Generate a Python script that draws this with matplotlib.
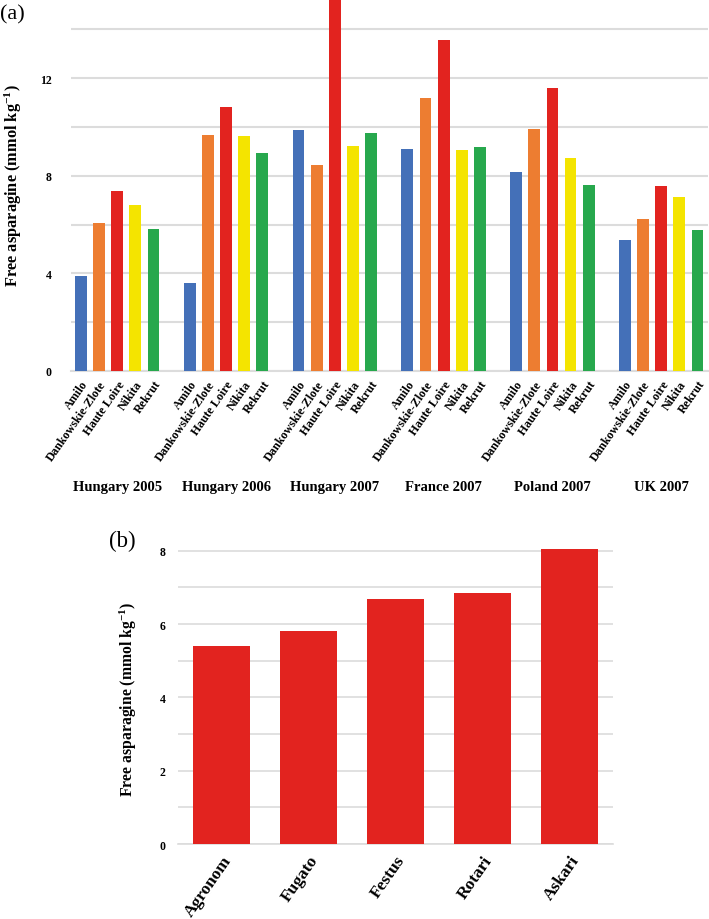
import matplotlib
matplotlib.use("Agg")
import matplotlib.pyplot as plt
import matplotlib.transforms as mtransforms
import numpy as np

plt.rcParams['font.family'] = ['Liberation Serif', 'DejaVu Serif']
plt.rcParams['mathtext.fontset'] = 'custom'
plt.rcParams['mathtext.rm'] = 'Liberation Serif:bold'
plt.rcParams['mathtext.default'] = 'rm'

# panel (a) data
sites = ['Hungary 2005', 'Hungary 2006', 'Hungary 2007', 'France 2007', 'Poland 2007', 'UK 2007']
varieties = ['Amilo', 'Dankowskie-Zlote', 'Haute Loire', 'Nikita', 'Rekrut']
amilo = [3.9, 3.62, 9.88, 9.11, 8.17, 5.36]
dankowskie = [6.07, 9.68, 8.46, 11.2, 9.93, 6.22]
haute_loire = [7.39, 10.83, 15.2, 13.57, 11.61, 7.6]
nikita = [6.82, 9.64, 9.22, 9.07, 8.73, 7.12]
rekrut = [5.82, 8.93, 9.74, 9.17, 7.64, 5.79]

# panel (b) data
cultivars_b = ['Agronom', 'Fugato', 'Festus', 'Rotari', 'Askari']
asparagine_b = [5.41, 5.80, 6.69, 6.84, 8.06]

colors = ['#4470B8', '#ED7D31', '#E2231F', '#F4E400', '#27A84D']
grid_col = '#DCDCDC'
ylabel = 'Free asparagine (mmol kg$^{-1}$)'

fig = plt.figure(figsize=(7.09, 9.2), dpi=100)

# ---- panel (a)
ax1 = fig.add_axes([0.1001, 0.5957, 0.8985, 0.4043])
series = [amilo, dankowskie, haute_loire, nikita, rekrut]
tick_pos = []
tick_lab = []
for i, vals in enumerate(series):
    x = np.arange(len(sites)) * 6 + i
    ax1.bar(x, vals, width=0.65, color=colors[i], zorder=3)
    tick_pos.extend(x)
    tick_lab.extend([varieties[i]] * len(sites))
order = np.argsort(tick_pos)
ax1.set_xticks(np.array(tick_pos)[order])
ax1.set_xticklabels(np.array(tick_lab)[order], rotation=55, ha='right',
                    rotation_mode='anchor', fontsize=8.7, fontweight='bold')
ax1.set_xlim(-0.55, 34.58)
ax1.set_ylim(0, 15.25)
ax1.set_yticks([0, 4, 8, 12])
ax1.set_yticks([2, 6, 10, 14], minor=True)
ax1.set_yticklabels(['0', '4', '8', '12'], fontsize=8.5, fontweight='bold')
ax1.grid(axis='y', which='both', color=grid_col, linewidth=1.5, zorder=0)
ax1.tick_params(which='both', length=0, pad=5)
ax1.tick_params(axis='y', pad=14)
ax1.set_ylabel(ylabel, fontsize=11.8, fontweight='bold')
ax1.yaxis.set_label_coords(-0.073, 0.5)
for s in ['top', 'right', 'left']:
    ax1.spines[s].set_visible(False)
ax1.spines['bottom'].set_color(grid_col)
ax1.spines['bottom'].set_linewidth(1.5)

trans = mtransforms.blended_transform_factory(ax1.transData, ax1.transAxes)
for g, name in enumerate(sites):
    ax1.text(g * 6 + 2, -0.31, name, transform=trans, ha='center', va='center',
             fontsize=10.5, fontweight='bold')
fig.text(0.0, 0.984, '(a)', fontsize=16, ha='left', va='center')

# ---- panel (b)
ax2 = fig.add_axes([0.2511, 0.0815, 0.6135, 0.3236])
xb = np.arange(len(cultivars_b))
ax2.bar(xb, asparagine_b, width=0.66, color='#E2231F', zorder=3)
ax2.set_xlim(-0.5, 4.5)
ax2.set_ylim(0, 8.12)
ax2.set_xticks(xb)
ax2.set_xticklabels(cultivars_b, rotation=55, ha='right', rotation_mode='anchor',
                    fontsize=12.5, fontweight='bold')
ax2.set_yticks([0, 2, 4, 6, 8])
ax2.set_yticks([1, 3, 5, 7], minor=True)
ax2.set_yticklabels(['0', '2', '4', '6', '8'], fontsize=8.5, fontweight='bold')
ax2.grid(axis='y', which='both', color=grid_col, linewidth=1.2, zorder=0)
ax2.tick_params(which='both', length=0, pad=6)
ax2.tick_params(axis='y', pad=9)
ax2.set_ylabel(ylabel, fontsize=11.3, fontweight='bold')
ax2.yaxis.set_label_coords(-0.09, 0.49)
for s in ['top', 'right', 'left']:
    ax2.spines[s].set_visible(False)
ax2.spines['bottom'].set_color(grid_col)
ax2.spines['bottom'].set_linewidth(1.2)
fig.text(0.1537, 0.411, '(b)', fontsize=16.5, ha='left', va='center')

fig.savefig('out.png', dpi=100)
